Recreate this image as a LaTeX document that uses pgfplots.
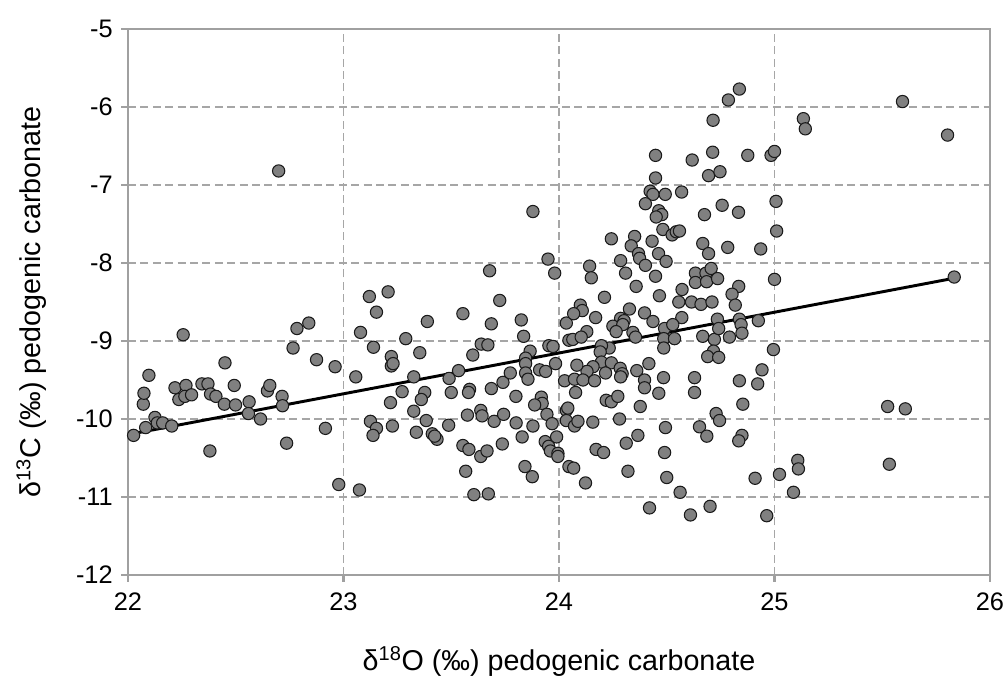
\documentclass[border=0pt]{standalone}
\usepackage{pgfplots}
\pgfplotsset{compat=1.18}
\usepackage{fontspec}
\setmainfont{Liberation Sans}

\definecolor{framegray}{HTML}{A0A0A0}
\definecolor{gridgray}{HTML}{A6A6A6}
\definecolor{dotfill}{HTML}{808080}
\definecolor{dotedge}{HTML}{1A1A1A}

\begin{document}
\begin{tikzpicture}
\useasboundingbox (0pt,0pt) rectangle (753pt,513pt);
\begin{axis}[
  at={(96pt,81.75pt)}, anchor=south west,
  scale only axis,
  width=646.5pt, height=409.5pt,
  xmin=22, xmax=26, ymin=-12, ymax=-5,
  xtick={22,23,24,25,26},
  ytick={-12,-11,-10,-9,-8,-7,-6,-5},
  /pgf/number format/assume math mode=true,
  ticklabel style={font=\fontsize{19}{22}\selectfont},
  xticklabel style={yshift=-5pt},
  yticklabel style={xshift=-3pt},
  grid=major,
  major grid style={gridgray, line width=0.9pt, dash pattern=on 6pt off 3.3pt},
  axis line style={framegray, line width=2.2pt},
  tick style={framegray, line width=1.6pt},
  tick align=outside, major tick length=5pt,
  xtick pos=bottom, ytick pos=left,
  xlabel={δ\textsuperscript{18}O (‰) pedogenic carbonate},
  ylabel={δ\textsuperscript{13}C (‰) pedogenic carbonate},
  label style={font=\fontsize{21.5}{25}\selectfont},
  xlabel style={at={(axis description cs:0.5,-0.158)}, anchor=center},
  ylabel style={at={(axis description cs:-0.112,0.5)}, anchor=center},
  clip=false,
]
\addplot[only marks, mark=*, mark size=4.6pt,
  mark options={fill=dotfill, draw=dotedge, line width=0.8pt}]
  table[row sep=\\] {
x y\\
22.026 -10.21\\ 22.082 -10.11\\ 22.125 -9.98\\ 22.136 -10.05\\ 22.161 -10.05\\
22.203 -10.09\\ 22.071 -9.81\\ 22.074 -9.67\\ 22.097 -9.44\\ 22.256 -8.92\\
22.218 -9.60\\ 22.269 -9.57\\ 22.236 -9.75\\ 22.264 -9.71\\ 22.295 -9.69\\
22.343 -9.55\\ 22.371 -9.55\\ 22.383 -9.68\\ 22.408 -9.71\\ 22.450 -9.28\\
22.447 -9.81\\ 22.493 -9.57\\ 22.499 -9.82\\ 22.562 -9.78\\ 22.559 -9.93\\
22.615 -10.00\\ 22.647 -9.64\\ 22.658 -9.57\\ 22.715 -9.71\\ 22.717 -9.83\\
22.736 -10.31\\ 22.766 -9.09\\ 22.784 -8.84\\ 22.839 -8.77\\ 22.875 -9.24\\
22.916 -10.12\\ 22.961 -9.33\\ 22.978 -10.84\\ 22.380 -10.41\\ 22.699 -6.82\\
23.057 -9.46\\ 23.079 -8.89\\ 23.120 -8.43\\ 23.207 -8.37\\ 23.153 -8.63\\
23.139 -9.08\\ 23.222 -9.20\\ 23.222 -9.32\\ 23.230 -9.29\\ 23.289 -8.97\\
23.354 -9.15\\ 23.389 -8.75\\ 23.326 -9.46\\ 23.272 -9.65\\ 23.218 -9.79\\
23.377 -9.66\\ 23.361 -9.75\\ 23.326 -9.90\\ 23.490 -9.48\\ 23.534 -9.38\\
23.500 -9.66\\ 23.554 -8.65\\ 23.585 -9.62\\ 23.580 -9.66\\ 23.600 -9.18\\
23.639 -9.04\\ 23.670 -9.05\\ 23.678 -8.10\\ 23.686 -8.78\\ 23.725 -8.48\\
23.686 -9.61\\ 23.740 -9.53\\ 23.774 -9.41\\ 23.800 -9.71\\ 23.825 -8.73\\
23.836 -8.94\\ 23.866 -9.13\\ 23.845 -9.22\\ 23.845 -9.29\\ 23.845 -9.41\\
23.856 -9.49\\ 23.910 -9.37\\ 23.938 -9.39\\ 23.953 -9.06\\ 23.972 -9.07\\
23.984 -9.29\\ 23.949 -7.95\\ 23.980 -8.13\\ 23.918 -9.72\\ 23.922 -9.80\\
23.887 -9.82\\ 24.026 -9.51\\ 24.046 -8.99\\ 24.034 -8.77\\ 23.879 -7.34\\
23.074 -10.91\\ 23.125 -10.03\\ 23.153 -10.12\\ 23.137 -10.21\\ 23.227 -10.09\\
23.384 -10.02\\ 23.338 -10.17\\ 23.412 -10.19\\ 23.434 -10.26\\ 23.423 -10.22\\
23.488 -10.08\\ 23.575 -9.95\\ 23.637 -9.89\\ 23.643 -9.96\\ 23.699 -10.03\\
23.743 -9.94\\ 23.554 -10.34\\ 23.582 -10.39\\ 23.637 -10.48\\ 23.666 -10.41\\
23.737 -10.32\\ 23.567 -10.67\\ 23.605 -10.97\\ 23.672 -10.96\\ 23.801 -10.05\\
23.829 -10.23\\ 23.879 -10.09\\ 23.944 -9.94\\ 23.968 -10.06\\ 23.989 -10.23\\
23.936 -10.29\\ 23.952 -10.35\\ 23.960 -10.41\\ 23.995 -10.44\\ 23.995 -10.48\\
23.842 -10.61\\ 23.876 -10.74\\ 24.046 -10.61\\ 24.034 -9.89\\ 24.034 -10.02\\
24.837 -5.77\\ 24.786 -5.91\\ 24.715 -6.17\\ 24.448 -6.62\\ 24.618 -6.68\\
24.713 -6.58\\ 24.876 -6.62\\ 24.984 -6.62\\ 25.000 -6.57\\ 24.448 -6.91\\
24.694 -6.88\\ 24.747 -6.83\\ 24.423 -7.08\\ 24.436 -7.12\\ 24.493 -7.12\\
24.569 -7.09\\ 24.401 -7.24\\ 24.463 -7.33\\ 24.477 -7.38\\ 24.451 -7.41\\
24.482 -7.57\\ 24.525 -7.64\\ 24.544 -7.60\\ 24.559 -7.59\\ 24.243 -7.69\\
24.351 -7.66\\ 24.335 -7.78\\ 24.432 -7.72\\ 24.675 -7.38\\ 24.757 -7.26\\
24.833 -7.35\\ 24.667 -7.75\\ 24.783 -7.80\\ 24.936 -7.82\\ 25.007 -7.21\\
25.010 -7.59\\ 25.594 -5.93\\ 25.803 -6.36\\ 25.134 -6.15\\ 25.143 -6.28\\
24.694 -7.88\\ 24.369 -7.88\\ 24.374 -7.94\\ 24.462 -7.88\\ 24.497 -7.98\\
24.401 -8.03\\ 24.286 -7.97\\ 24.142 -8.04\\ 24.150 -8.19\\ 24.309 -8.13\\
24.448 -8.17\\ 24.358 -8.30\\ 24.633 -8.13\\ 24.633 -8.25\\ 24.682 -8.13\\
24.706 -8.07\\ 24.685 -8.24\\ 24.736 -8.20\\ 24.834 -8.30\\ 24.803 -8.40\\
24.818 -8.54\\ 25.000 -8.21\\ 24.571 -8.34\\ 24.556 -8.50\\ 24.615 -8.50\\
24.659 -8.53\\ 24.710 -8.50\\ 24.466 -8.42\\ 24.211 -8.44\\ 24.099 -8.54\\
24.108 -8.61\\ 24.068 -8.65\\ 24.170 -8.70\\ 24.327 -8.59\\ 24.397 -8.64\\
24.436 -8.75\\ 24.570 -8.70\\ 24.286 -8.71\\ 24.302 -8.74\\ 24.250 -8.81\\
24.296 -8.79\\ 24.265 -8.88\\ 24.129 -8.88\\ 24.064 -8.98\\ 24.103 -8.95\\
24.343 -8.89\\ 24.355 -8.95\\ 24.490 -8.84\\ 24.528 -8.79\\ 24.486 -8.97\\
24.536 -8.97\\ 24.486 -9.09\\ 24.667 -8.94\\ 24.721 -8.98\\ 24.735 -8.72\\
24.741 -8.84\\ 24.791 -8.95\\ 24.837 -8.72\\ 24.845 -8.79\\ 24.849 -8.90\\
24.925 -8.74\\ 24.995 -9.11\\ 24.717 -9.13\\ 24.690 -9.20\\ 24.741 -9.21\\
24.233 -9.09\\ 24.197 -9.06\\ 24.191 -9.14\\ 24.197 -9.27\\ 24.243 -9.28\\
24.158 -9.33\\ 24.130 -9.39\\ 24.083 -9.31\\ 24.072 -9.49\\ 24.111 -9.50\\
24.165 -9.51\\ 24.216 -9.41\\ 24.284 -9.35\\ 24.293 -9.42\\ 24.286 -9.46\\
24.361 -9.38\\ 24.417 -9.29\\ 24.397 -9.50\\ 24.397 -9.60\\ 24.485 -9.47\\
24.463 -9.67\\ 24.629 -9.47\\ 24.629 -9.66\\ 24.837 -9.51\\ 24.922 -9.55\\
24.942 -9.37\\ 24.077 -9.66\\ 24.219 -9.76\\ 24.243 -9.78\\ 24.273 -9.71\\
24.377 -9.84\\ 24.853 -9.81\\ 24.041 -9.86\\ 24.072 -10.09\\ 24.088 -10.03\\
24.157 -10.04\\ 24.281 -10.00\\ 24.172 -10.39\\ 24.207 -10.43\\ 24.068 -10.63\\
24.123 -10.82\\ 24.312 -10.31\\ 24.366 -10.21\\ 24.320 -10.67\\ 24.494 -10.11\\
24.490 -10.43\\ 24.500 -10.75\\ 24.562 -10.94\\ 24.420 -11.14\\ 24.610 -11.23\\
24.701 -11.12\\ 24.652 -10.10\\ 24.686 -10.22\\ 24.729 -9.93\\ 24.745 -10.02\\
24.849 -10.21\\ 24.834 -10.28\\ 24.910 -10.76\\ 24.964 -11.24\\ 25.023 -10.71\\
25.525 -9.84\\ 25.607 -9.87\\ 25.533 -10.58\\ 25.108 -10.53\\ 25.111 -10.64\\
25.088 -10.94\\ 25.834 -8.18\\
};
% least-squares trend line
\addplot[black, line width=2.2pt] coordinates {(22,-10.2) (25.834,-8.195)};
\end{axis}
\end{tikzpicture}
\end{document}
